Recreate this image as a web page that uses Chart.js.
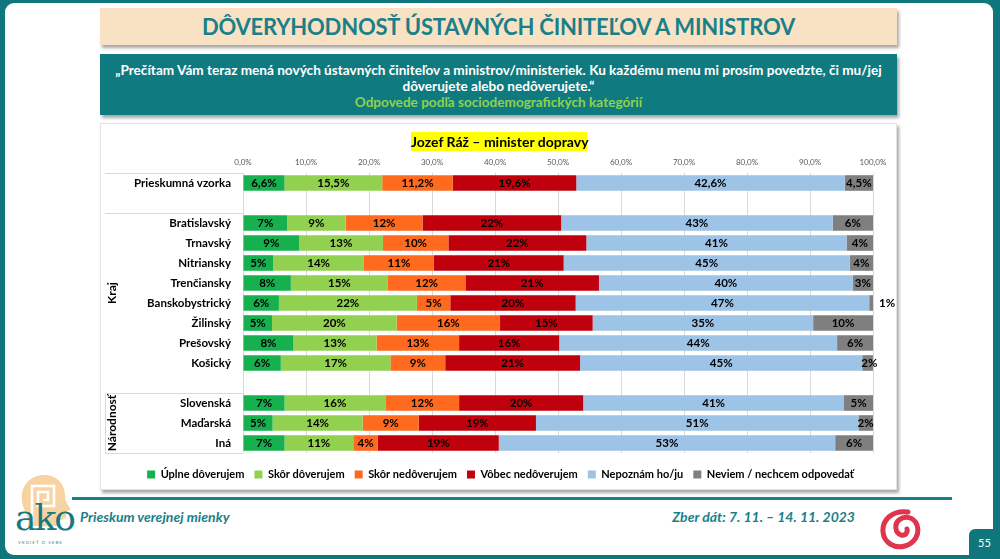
<!DOCTYPE html>
<html lang="sk">
<head>
<meta charset="utf-8">
<title>Dôveryhodnosť ústavných činiteľov a ministrov</title>
<script src="https://cdn.jsdelivr.net/npm/chart.js@4.4.1/dist/chart.umd.min.js"></script>
<style>
  html, body { margin: 0; padding: 0; }
  body { width: 1000px; height: 559px; background: #0f767b; position: relative; overflow: hidden; font-family: Lato, "Open Sans", sans-serif; }
  .slide { position: absolute; left: 5px; top: 3px; width: 988px; height: 552px; background: #fff; border-radius: 9px; }
  .titlebox { position: absolute; left: 100px; top: 8px; width: 797px; height: 37px; background: #f9e2c4; box-shadow: 2px 3px 3px rgba(0,0,0,0.35);
    color: #1a8088; font-weight: 700; font-size: 22px; text-align: center; line-height: 37px; letter-spacing: -0.2px; }
  .qbox { position: absolute; left: 100px; top: 54px; width: 797px; height: 61px; background: #0f7a80; box-shadow: 2px 3px 3px rgba(0,0,0,0.35);
    color: #fff; font-weight: 700; font-size: 13.6px; text-align: center; line-height: 16px; }
  .qbox .l1 { position: absolute; left: 0; right: 0; top: 8px; white-space: nowrap; }
  .qbox .l2 { position: absolute; left: 0; right: 0; top: 24px; }
  .qbox .l3 { position: absolute; left: 0; right: 0; top: 40px; color: #8fd14f; }
  .panel { position: absolute; left: 100px; top: 123px; width: 797px; height: 367px; background: #fff; border: 1px solid #e4e4e4; box-sizing: border-box; box-shadow: 2px 3px 3px rgba(0,0,0,0.35); }
  #chart { position: absolute; left: 100px; top: 123px; }
  .ctitle { position: absolute; left: 411px; top: 132px; width: 176px; height: 19px; background: #ffff00; color: #000; font-weight: 700; font-size: 14px; line-height: 19px; text-align: center; white-space: nowrap; }
  .fline { position: absolute; left: 72px; top: 497px; width: 880px; height: 3px; background: #138289; }
  .ftext { position: absolute; top: 508px; color: #1a8088; font-weight: 700; font-style: italic; font-size: 14px; white-space: nowrap; }
  .pnum { position: absolute; left: 969px; top: 529px; width: 31px; height: 30px; background: #0f767b; border-top-left-radius: 6px; color: #fff; font-size: 11px; line-height: 28px; text-align: center; }
  .ako { position: absolute; left: 14px; top: 472px; width: 60px; height: 80px; }
  .akotext { position: absolute; left: 15px; top: 497px; color: #17797f; font-family: "DejaVu Serif", "Liberation Serif", serif; font-size: 36px; letter-spacing: -2px; }
  .akosub { position: absolute; left: 18px; top: 540px; color: #3a8f94; font-size: 4.5px; letter-spacing: 1px; }
  .spiral { position: absolute; left: 878px; top: 508px; }
</style>
</head>
<body>
<div class="slide"></div>
<div class="titlebox">DÔVERYHODNOSŤ ÚSTAVNÝCH ČINITEĽOV A MINISTROV</div>
<div class="qbox">
  <div class="l1">„Prečítam Vám teraz mená nových ústavných činiteľov a ministrov/ministeriek. Ku každému menu mi prosím povedzte, či mu/jej</div>
  <div class="l2">dôverujete alebo nedôverujete.“</div>
  <div class="l3">Odpovede podľa sociodemografických kategórií</div>
</div>
<div class="panel"></div>
<canvas id="chart" width="797" height="367"></canvas>
<div class="ctitle">Jozef Ráž – minister dopravy</div>
<div class="fline"></div>
<div class="ftext" style="left:80px;">Prieskum verejnej mienky</div>
<div class="ftext" style="right:145px;">Zber dát: 7. 11. – 14. 11. 2023</div>
<svg class="ako" width="60" height="80" viewBox="0 0 60 80">
  <path d="M8 30 C6 14 16 3 30 3 C43 3 51 12 51 24 C51 29 53 32 56 36 C57 38 55 39 53 39 L52 44 C52 47 48 48 45 48 L44 54 L14 54 C16 46 10 40 8 30 Z" fill="#f8d3a2"/>
  <path d="M18 50 L18 14 L40 14 L40 34 L24 34 L24 20 L34 20 L34 28 L29 28" fill="none" stroke="#fff" stroke-width="2.6"/>
</svg>
<div class="akotext">ako</div>
<div class="akosub">VEDIEŤ O SEBE</div>
<svg class="spiral" width="46" height="42" viewBox="0 0 46 42">
  <path d="M30 4 C14 2 4 12 5 24 C6 35 17 41 27 38 C37 35 42 26 39 17 C36 9 27 7 21 12 C16 16 17 25 23 27 C27 28 30 25 29 21" fill="none" stroke="#e0354f" stroke-width="5" stroke-linecap="round"/>
</svg>
<div class="pnum">55</div>

<script>
// ---- data ----
const categories = ['Prieskumná vzorka', '', 'Bratislavský', 'Trnavský', 'Nitriansky', 'Trenčiansky', 'Banskobystrický', 'Žilinský', 'Prešovský', 'Košický', '', 'Slovenská', 'Maďarská', 'Iná'];
const seriesNames = ['Úplne dôverujem', 'Skôr dôverujem', 'Skôr nedôverujem', 'Vôbec nedôverujem', 'Nepoznám ho/ju', 'Neviem / nechcem odpovedať'];
const uplneDoverujem   = [6.6, null, 7.0, 8.9, 4.8, 7.6, 5.7, 4.6, 8.0, 6.0, null, 6.6, 4.7, 6.6];
const skorDoverujem    = [15.5, null, 9.3, 13.3, 14.4, 15.4, 21.9, 19.8, 13.2, 17.4, null, 16.0, 14.3, 10.9];
const skorNedoverujem  = [11.2, null, 12.2, 10.4, 11.1, 12.3, 5.3, 16.4, 13.1, 8.7, null, 11.7, 8.9, 3.9];
const vobecNedoverujem = [19.6, null, 22.0, 21.9, 20.6, 21.2, 19.9, 14.7, 15.9, 21.4, null, 19.7, 18.6, 19.2];
const nepoznam         = [42.6, null, 43.1, 41.3, 45.4, 40.3, 46.6, 35.0, 44.1, 44.8, null, 41.4, 51.2, 53.4];
const neviem           = [4.5, null, 6.4, 4.2, 3.7, 3.2, 0.6, 9.5, 5.7, 1.7, null, 4.6, 2.3, 6.0];
const labelDecimals    = [1, 0, 0, 0, 0, 0, 0, 0, 0, 0, 0, 0, 0, 0];
const tickValues = [0, 10, 20, 30, 40, 50, 60, 70, 80, 90, 100];
const groups = [
  { label: 'Kraj', from: 2, to: 9 },
  { label: 'Národnosť', from: 11, to: 13 }
];
const seriesColors = ['#17b04f', '#92d050', '#ff6a1f', '#c0000c', '#9dc3e6', '#7f7f7f'];

const FONT = 'Lato, "Open Sans", sans-serif';

function fmtValue(v, dec) {
  const n = dec > 0 ? v.toFixed(dec).replace('.', ',') : String(Math.round(v));
  return n + '%';
}

const segLabels = {
  id: 'segLabels',
  afterDatasetsDraw(chart) {
    const ctx = chart.ctx;
    ctx.save();
    ctx.font = 'bold 11.5px ' + FONT;
    ctx.fillStyle = '#000';
    ctx.textBaseline = 'middle';
    chart.data.datasets.forEach((ds, di) => {
      const meta = chart.getDatasetMeta(di);
      meta.data.forEach((el, j) => {
        const v = ds.data[j];
        if (v == null) return;
        const txt = fmtValue(v, labelDecimals[j]);
        const left = Math.min(el.x, el.base), right = Math.max(el.x, el.base);
        if (v < 1) {
          ctx.textAlign = 'left';
          ctx.fillText(txt, right + 6, el.y + 0.5);
        } else {
          ctx.textAlign = 'center';
          const w = ctx.measureText(txt).width;
          let cx = (left + right) / 2;
          if (w > right - left && di === chart.data.datasets.length - 1) cx += (w - (right - left)) / 2 - 1;
          ctx.fillText(txt, cx, el.y + 0.5);
        }
      });
    });
    ctx.restore();
  }
};

const groupAxis = {
  id: 'groupAxis',
  afterDraw(chart) {
    const { ctx, chartArea, scales: { y } } = chart;
    const half = (y.getPixelForValue(1) - y.getPixelForValue(0)) / 2;
    const x0 = 5, x1 = chartArea.left;
    ctx.save();
    ctx.strokeStyle = '#d9d9d9';
    ctx.lineWidth = 1;
    const hLines = [y.getPixelForValue(0) - half, y.getPixelForValue(groups[0].from) - half,
                    y.getPixelForValue(groups[1].from) - half, y.getPixelForValue(groups[1].to) + half];
    hLines.forEach(py => {
      ctx.beginPath(); ctx.moveTo(x0, Math.round(py) + 0.5); ctx.lineTo(x1, Math.round(py) + 0.5); ctx.stroke();
    });
    ctx.beginPath();
    ctx.moveTo(x0 + 0.5, y.getPixelForValue(groups[1].from) - half);
    ctx.lineTo(x0 + 0.5, y.getPixelForValue(groups[1].to) + half);
    ctx.stroke();
    ctx.fillStyle = '#000';
    ctx.font = 'bold 12px ' + FONT;
    ctx.textAlign = 'center';
    ctx.textBaseline = 'middle';
    groups.forEach(g => {
      const cy = (y.getPixelForValue(g.from) + y.getPixelForValue(g.to)) / 2;
      ctx.save();
      ctx.translate(12, cy);
      ctx.rotate(-Math.PI / 2);
      ctx.fillText(g.label, 0, 0);
      ctx.restore();
    });
    ctx.restore();
  }
};

const seriesData = [uplneDoverujem, skorDoverujem, skorNedoverujem, vobecNedoverujem, nepoznam, neviem];

new Chart(document.getElementById('chart'), {
  type: 'bar',
  data: {
    labels: categories,
    datasets: seriesNames.map((name, i) => ({
      label: name,
      data: seriesData[i],
      backgroundColor: seriesColors[i],
      borderWidth: 0,
      barPercentage: 0.78,
      categoryPercentage: 1.0
    }))
  },
  options: {
    indexAxis: 'y',
    responsive: false,
    animation: false,
    layout: { padding: { left: 28, right: 24, top: 0, bottom: 0 } },
    scales: {
      x: {
        position: 'top',
        stacked: true,
        min: 0,
        max: 100,
        afterBuildTicks(scale) { scale.ticks = tickValues.map(v => ({ value: v })); },
        afterFit(scale) { scale.height = 50; },
        ticks: {
          callback: v => v.toFixed(1).replace('.', ',') + '%',
          font: { family: FONT, size: 8 },
          color: '#595959',
          padding: 6,
          maxRotation: 0
        },
        grid: { color: '#d9d9d9', drawTicks: false },
        border: { display: false }
      },
      y: {
        stacked: true,
        afterFit(scale) { scale.width = 115; },
        ticks: {
          font: { family: FONT, size: 11.5, weight: 'bold' },
          color: '#000',
          padding: 12,
          autoSkip: false
        },
        grid: { display: false, drawTicks: false },
        border: { display: false }
      }
    },
    plugins: {
      legend: {
        position: 'bottom',
        title: { display: true, text: ' ', font: { size: 5 }, padding: 0 },
        labels: {
          boxWidth: 8,
          boxHeight: 8,
          padding: 10,
          color: '#000',
          font: { family: FONT, size: 11, weight: 'bold' }
        }
      },
      tooltip: { enabled: false }
    }
  },
  plugins: [segLabels, groupAxis]
});
</script>
</body>
</html>
